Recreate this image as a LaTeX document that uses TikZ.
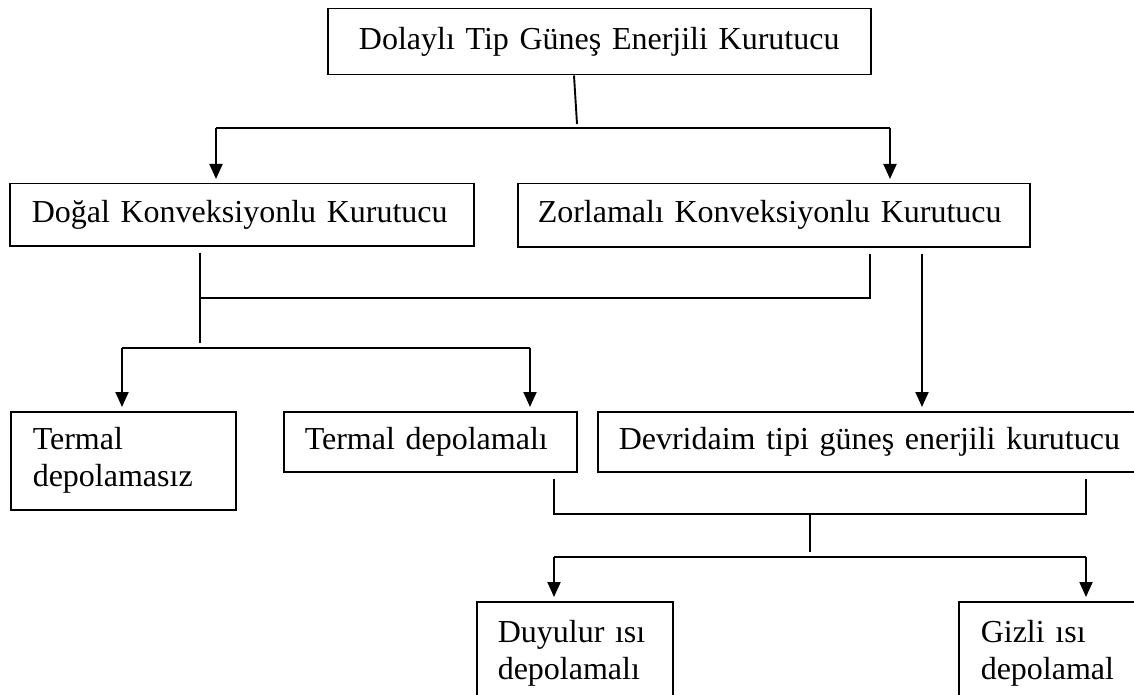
\documentclass[tikz,border=0pt]{standalone}
\usepackage{fontspec}
\setmainfont{Liberation Serif}
\usetikzlibrary{arrows.meta,calc}
\begin{document}
\begin{tikzpicture}[x=1pt,y=-1pt,
  box/.style={draw, line width=1.5pt, anchor=north west, inner ysep=0pt,
    font=\fontsize{32}{37}\selectfont, align=left},
  conn/.style={line width=1.9pt},
  arr/.style={conn, shorten >=4pt, -{Triangle[length=15pt,width=13pt]}}]
\useasboundingbox (0,0) rectangle (1134,695);
\fill[white] (0,0) rectangle (1134,695);

% boxes
\node[box, align=center, text width=523pt, inner xsep=10pt, minimum height=66pt] (top) at (327,8) {Dolaylı Tip Güneş Enerjili Kurutucu};
\node[box, text width=420pt, inner xsep=22pt, minimum height=62pt] (dogal) at (9,183) {Doğal Konveksiyonlu Kurutucu};
\node[box, text width=472pt, inner xsep=20pt, minimum height=63pt] (zorla) at (517,183) {Zorlamalı Konveksiyonlu Kurutucu};
\node[box, text width=181pt, inner xsep=22pt, minimum height=98pt] (tsiz) at (10,411) {Termal\\depolamasız};
\node[box, text width=251pt, inner xsep=21pt, minimum height=60pt] (tli) at (283,411) {Termal depolamalı};
\node[box, text width=518pt, inner xsep=21pt, minimum height=60pt] (devr) at (597,411) {Devridaim tipi güneş enerjili kurutucu};
\node[box, text width=154pt, inner xsep=21pt, minimum height=104pt] (duy) at (476,601) {Duyulur ısı\\depolamalı};
\node[box, text width=158pt, inner xsep=22pt, minimum height=104pt] (giz) at (958,601) {Gizli ısı\\depolamal};

% level 1
\coordinate (j0) at (574,0);
\coordinate (j1) at (577,124);
\coordinate (a1) at (216,128);
\coordinate (a2) at (890,128);
\draw[conn] (top.south -| j0) -- (j1);
\draw[conn] (a1) -- (a2);
\draw[arr] (a1) -- (a1 |- dogal.north);
\draw[arr] (a2) -- (a2 |- zorla.north);

% level 2
\coordinate (b1) at (200,298);
\coordinate (b2) at (870,298);
\coordinate (b3) at (200,343);
\coordinate (cz) at (922,0);
\draw[conn] ($(dogal.south -| b1)+(0,6)$) -- (b3);
\draw[conn, line join=miter] ($(zorla.south -| b2)+(0,6)$) -- (b2) -- (b1);
\draw[arr] ($(zorla.south -| cz)+(0,6)$) -- (cz |- devr.north);

% level 3
\coordinate (d1) at (122,348);
\coordinate (d2) at (530,348);
\draw[conn] (d1) -- (d2);
\draw[arr] (d1) -- (d1 |- tsiz.north);
\draw[arr] (d2) -- (d2 |- tli.north);

% level 4
\coordinate (e1) at (554,514);
\coordinate (e2) at (1086,514);
\coordinate (f0) at (810,514);
\coordinate (f1) at (810,552);
\draw[conn, line join=miter] ($(tli.south -| e1)+(0,6)$) -- (e1) -- (e2) -- ($(devr.south -| e2)+(0,6)$);
\draw[conn] (f0) -- (f1);
\coordinate (g1) at (554,557);
\coordinate (g2) at (1086,557);
\draw[conn] (g1) -- (g2);
\draw[arr] (g1) -- (g1 |- duy.north);
\draw[arr] (g2) -- (g2 |- giz.north);
\end{tikzpicture}
\end{document}
